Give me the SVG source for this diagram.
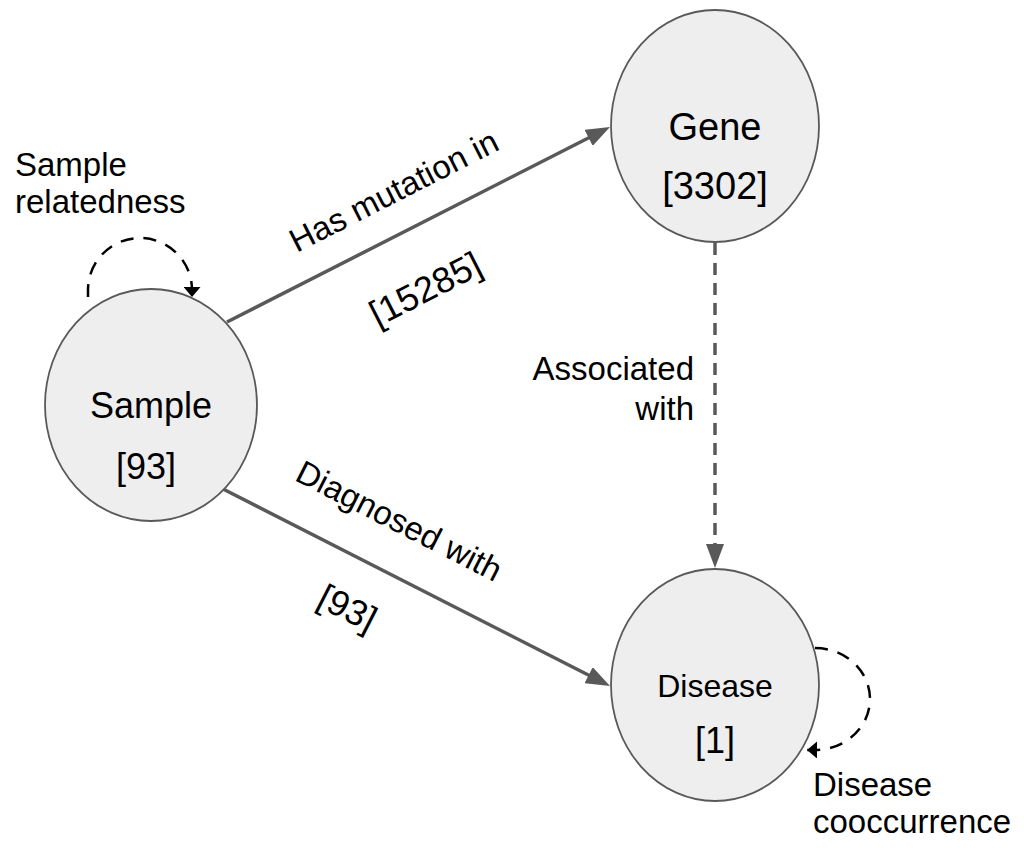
<svg xmlns="http://www.w3.org/2000/svg" width="1024" height="850" viewBox="0 0 1024 850">
<style>
.node{fill:#eeeeee;stroke:#595959;stroke-width:1.8}
.t{font-family:"Liberation Sans",Arial,sans-serif;fill:#000}
.edge{fill:none;stroke:#595959;stroke-width:3.5}
.dash{stroke-dasharray:12 8}
.loop{fill:none;stroke:#000;stroke-width:2.5;stroke-dasharray:13 10}
</style>
<defs>
<marker id="ag" viewBox="0 0 24 18" refX="14" refY="9" markerWidth="24" markerHeight="18" markerUnits="userSpaceOnUse" orient="auto">
<path d="M0 0 L24 9 L0 18 z" fill="#595959"/>
</marker>
<marker id="ab" viewBox="0 0 10 17" refX="10" refY="8.5" markerWidth="10" markerHeight="17" markerUnits="userSpaceOnUse" orient="auto">
<path d="M0 0 L10 8.5 L0 17 z" fill="#000"/>
</marker>
</defs>
<rect width="1024" height="850" fill="#fff"/>
<g id="connectors">
<line class="edge" x1="227" y1="322" x2="601.1" y2="131.5" marker-end="url(#ag)"/>
<line class="edge" x1="223" y1="489" x2="601.1" y2="681.5" marker-end="url(#ag)"/>
<line class="edge dash" x1="715" y1="243" x2="715" y2="558" marker-end="url(#ag)"/>
<path class="loop" d="M88 297 L88 290 A52 52 0 0 1 192 290 L192 297" marker-end="url(#ab)"/>
<path class="loop" d="M815 648 A55 51 0 0 1 815 750 L807 750" marker-end="url(#ab)"/>
<text class="t" font-size="33" text-anchor="middle" transform="translate(399 201) rotate(-27)">Has mutation in</text>
<text class="t" font-size="36" text-anchor="middle" transform="translate(431 300) rotate(-27)">[15285]</text>
<text class="t" font-size="33" text-anchor="middle" transform="translate(394 531) rotate(27)">Diagnosed with</text>
<text class="t" font-size="36" text-anchor="middle" transform="translate(342 619) rotate(27)">[93]</text>
<text class="t" font-size="33" text-anchor="end" x="694" y="380">Associated</text>
<text class="t" font-size="33" text-anchor="end" x="694" y="420">with</text>
<text class="t" font-size="33" x="15" y="176">Sample</text>
<text class="t" font-size="33" x="15" y="213">relatedness</text>
<text class="t" font-size="33" x="813" y="796">Disease</text>
<text class="t" font-size="33" x="813" y="833">cooccurrence</text>
</g>
<g id="gene">
<ellipse class="node" cx="715" cy="126" rx="104" ry="116"/>
<text class="t" font-size="38" text-anchor="middle" x="715" y="140">Gene</text>
<text class="t" font-size="38" text-anchor="middle" x="715" y="199">[3302]</text>
</g>
<g id="sample">
<ellipse class="node" cx="151" cy="405" rx="106" ry="116"/>
<text class="t" font-size="36" text-anchor="middle" x="151" y="418">Sample</text>
<text class="t" font-size="36" text-anchor="middle" x="146" y="479">[93]</text>
</g>
<g id="disease">
<ellipse class="node" cx="715" cy="685" rx="104" ry="116"/>
<text class="t" font-size="32" text-anchor="middle" x="715" y="697">Disease</text>
<text class="t" font-size="36" text-anchor="middle" x="715" y="753">[1]</text>
</g>
</svg>
